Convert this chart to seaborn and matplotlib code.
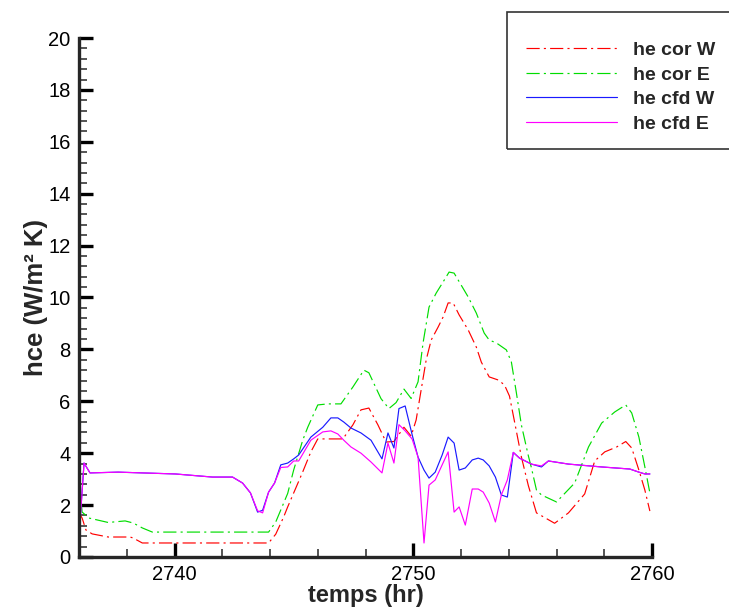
import matplotlib
matplotlib.use("Agg")
import matplotlib.pyplot as plt
import seaborn as sns
from matplotlib.patches import Rectangle
from matplotlib.ticker import MultipleLocator

# hce (W/m2 K) vs time (hr)
t_cfd = [2736.00, 2736.21, 2736.46, 2737.64, 2740.03, 2741.59, 2742.43, 2742.85,
         2743.18, 2743.48, 2743.69, 2743.94, 2744.19, 2744.45, 2744.74, 2744.99,
         2745.20, 2745.71, 2746.21, 2746.55, 2746.84, 2747.09, 2747.39, 2747.81,
         2748.23, 2748.69, 2748.94, 2749.19, 2749.40, 2749.66, 2749.95, 2750.20,
         2750.45, 2750.66, 2750.92, 2751.21, 2751.46, 2751.71, 2751.92, 2752.18,
         2752.47, 2752.72, 2752.93, 2753.18, 2753.44, 2753.69, 2753.94, 2754.19,
         2754.45, 2754.95, 2755.37, 2755.66, 2756.50, 2757.89, 2759.07, 2759.45,
         2759.70, 2759.91]
cfd_w = [0.80, 3.62, 3.24, 3.27, 3.20, 3.08, 3.08, 2.85,
         2.47, 1.73, 1.80, 2.50, 2.85, 3.55, 3.62, 3.78,
         3.93, 4.62, 5.00, 5.36, 5.36, 5.20, 4.97, 4.78,
         4.50, 3.78, 4.78, 4.20, 5.72, 5.82, 4.72, 3.85,
         3.35, 3.04, 3.27, 3.93, 4.62, 4.39, 3.35, 3.43,
         3.74, 3.81, 3.74, 3.51, 3.08, 2.39, 2.31, 4.03,
         3.81, 3.58, 3.47, 3.70, 3.58, 3.47, 3.39, 3.27,
         3.20, 3.20]
cfd_e = [0.77, 3.62, 3.24, 3.27, 3.20, 3.08, 3.08, 2.85,
         2.47, 1.78, 1.70, 2.50, 2.85, 3.45, 3.47, 3.70,
         3.70, 4.50, 4.82, 4.86, 4.74, 4.50, 4.24, 4.00,
         3.66, 3.24, 4.39, 3.62, 5.10, 4.86, 4.55, 3.85,
         0.54, 2.77, 2.97, 3.55, 4.05, 1.73, 1.93, 1.23,
         2.62, 2.62, 2.50, 2.08, 1.35, 2.39, 2.97, 4.03,
         3.81, 3.58, 3.51, 3.70, 3.58, 3.47, 3.39, 3.27,
         3.20, 3.20]

t_cor_w = [2736.00, 2736.13, 2736.29, 2736.55, 2737.22, 2738.14, 2738.27, 2738.65,
           2743.94, 2744.24, 2744.57, 2744.74, 2745.37, 2745.71, 2746.00, 2746.42,
           2747.05, 2747.47, 2747.81, 2748.14, 2748.52, 2748.86, 2749.19, 2749.61,
           2749.91, 2750.12, 2750.33, 2750.54, 2750.75, 2751.04, 2751.25, 2751.46,
           2751.67, 2751.92, 2752.30, 2752.64, 2752.85, 2753.18, 2753.56, 2753.82,
           2754.03, 2754.24, 2754.53, 2754.82, 2755.16, 2755.92, 2756.50, 2757.18,
           2757.60, 2758.02, 2758.52, 2758.90, 2759.15, 2759.45, 2759.70, 2759.91]
cor_w = [1.70, 1.50, 1.04, 0.89, 0.77, 0.77, 0.73, 0.54,
         0.54, 0.88, 1.54, 1.93, 3.28, 4.05, 4.55, 4.55,
         4.55, 5.09, 5.67, 5.74, 5.09, 4.43, 4.45, 5.00,
         4.66, 5.28, 6.44, 7.59, 8.36, 8.86, 9.25, 9.79,
         9.79, 9.33, 8.75, 8.09, 7.51, 6.94, 6.82, 6.63,
         6.20, 5.22, 3.85, 2.75, 1.70, 1.30, 1.70, 2.43,
         3.70, 4.05, 4.24, 4.45, 4.20, 3.35, 2.58, 1.77]

t_cor_e = [2736.00, 2736.13, 2736.42, 2737.22, 2737.93, 2738.27, 2738.65, 2739.07,
           2743.94, 2744.24, 2744.74, 2744.99, 2745.37, 2745.58, 2746.00, 2746.42,
           2746.97, 2747.47, 2747.93, 2748.14, 2748.65, 2748.98, 2749.28, 2749.61,
           2749.91, 2750.20, 2750.41, 2750.66, 2750.96, 2751.25, 2751.50, 2751.71,
           2752.30, 2752.64, 2752.97, 2753.18, 2753.48, 2753.90, 2754.11, 2754.32,
           2754.53, 2754.82, 2754.95, 2755.16, 2755.37, 2756.00, 2756.76, 2757.34,
           2757.89, 2758.44, 2758.90, 2759.15, 2759.45, 2759.70, 2759.91]
cor_e = [2.95, 1.73, 1.50, 1.33, 1.39, 1.31, 1.12, 0.96,
         0.96, 1.35, 2.45, 3.35, 4.50, 5.00, 5.86, 5.90,
         5.90, 6.55, 7.20, 7.10, 6.10, 5.72, 5.95, 6.47,
         6.11, 6.75, 8.25, 9.63, 10.17, 10.60, 10.98, 10.94,
         10.02, 9.40, 8.63, 8.36, 8.25, 7.98, 7.51, 6.32,
         5.08, 3.90, 3.43, 2.58, 2.39, 2.12, 2.85, 4.24,
         5.16, 5.59, 5.86, 5.55, 4.62, 3.47, 2.47]

sns.set_style("ticks")
plt.rcParams['font.family'] = ['Liberation Sans', 'DejaVu Sans']
plt.rcParams['lines.scale_dashes'] = False

fig = plt.figure(figsize=(7.29, 6.10), dpi=100)
ax = fig.add_axes([0.1084, 0.0869, 0.7860, 0.8508])

dashdot = (0, (9.5, 3, 1.5, 3))
sns.lineplot(x=t_cor_w, y=cor_w, ax=ax, color='red', lw=0.85, linestyle=dashdot,
             label='he cor W', estimator=None, sort=False)
sns.lineplot(x=t_cor_e, y=cor_e, ax=ax, color='#00dd00', lw=0.85, linestyle=dashdot,
             label='he cor E', estimator=None, sort=False)
sns.lineplot(x=t_cfd, y=cfd_w, ax=ax, color='#1a1aff', lw=0.85,
             label='he cfd W', estimator=None, sort=False)
sns.lineplot(x=t_cfd, y=cfd_e, ax=ax, color='magenta', lw=0.85,
             label='he cfd E', estimator=None, sort=False)

ax.set_xlim(2736, 2760)
ax.set_ylim(0, 20)
ax.xaxis.set_major_locator(MultipleLocator(10))
ax.xaxis.set_minor_locator(MultipleLocator(2))
ax.yaxis.set_major_locator(MultipleLocator(2))
ax.yaxis.set_minor_locator(MultipleLocator(0.4))

sns.despine(ax=ax)
for s in ['left', 'bottom']:
    ax.spines[s].set_linewidth(2.4)
ax.tick_params(which='major', direction='in', length=10, width=2.4,
               labelsize=14.5, pad=6, colors='black')
ax.tick_params(which='minor', direction='in', length=6, width=1.1)

ax.set_xlabel('temps (hr)', fontsize=17, fontweight='bold', labelpad=0)
ax.set_ylabel('hce (W/m² K)', fontsize=18.5, fontweight='bold', labelpad=0)

# legend box runs past the right edge like the original
fig.patches.append(Rectangle((0.6955, 0.7557), 0.40, 0.2246, transform=fig.transFigure,
                             fill=False, edgecolor='#333333', lw=1.2))
handles, labels = ax.get_legend_handles_labels()
ax.legend(handles, labels, loc='upper left', bbox_to_anchor=(0.708, 0.948),
          bbox_transform=fig.transFigure, frameon=False, borderpad=0,
          handlelength=4.7, handletextpad=0.8, labelspacing=0.36,
          prop={'weight': 'bold', 'size': 14})

fig.savefig('out.png', dpi=100)
